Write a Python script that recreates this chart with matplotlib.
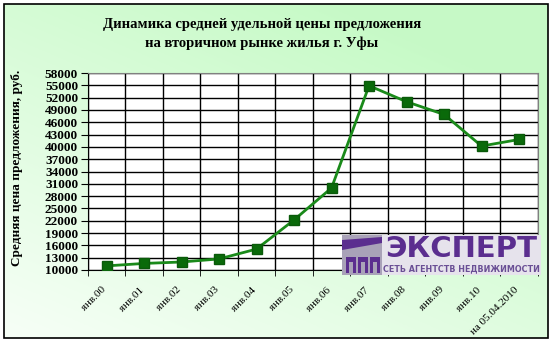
import matplotlib
matplotlib.use("Agg")
import matplotlib.pyplot as plt
import matplotlib.transforms as mtrans
import numpy as np
from matplotlib.patches import Rectangle, Polygon

categories = ["янв.00", "янв.01", "янв.02", "янв.03", "янв.04", "янв.05", "янв.06",
              "янв.07", "янв.08", "янв.09", "янв.10", "на 05.04.2010"]
prices = [11000, 11600, 11950, 12700, 15100, 22200, 30000, 54900, 51000, 47900, 40200, 41800]
yticks = list(range(10000, 58001, 3000))
title = "Динамика средней удельной цены предложения\nна вторичном рынке жилья г. Уфы"
ylabel = "Средняя цена предложения, руб."

W, H = 555, 342
fig = plt.figure(figsize=(W / 100, H / 100), dpi=100)

# background gradient
bg = fig.add_axes([0, 0, 1, 1], zorder=-10)
bg.set_axis_off()
xx, yy = np.meshgrid(np.linspace(0, 1, 200), np.linspace(0, 1, 200))
t = np.clip((xx * 0.7 + yy * 1.0) / 1.4, 0, 1)
c0 = np.array([0.97, 1.0, 0.97])
c1 = np.array([0.78, 0.98, 0.78])
img = c0[None, None, :] * (1 - t[..., None]) + c1[None, None, :] * t[..., None]
bg.imshow(img, origin="lower", extent=[0, 1, 0, 1], aspect="auto")
bg.set_xlim(0, 1); bg.set_ylim(0, 1)
# white margin outside border
for (x0, y0, w, h) in [(0, 0, 4 / W, 1), (548 / W, 0, 7 / W, 1), (0, 0, 1, 4 / H), (0, 338 / H, 1, 4 / H)]:
    bg.add_patch(Rectangle((x0, y0), w, h, facecolor="white", edgecolor="none"))
bg.add_patch(Rectangle((4 / W, 4 / H), 544 / W, 334 / H, facecolor="none", edgecolor="black", lw=1.2))

left, right, top, bottom = 87.8, 537.8, 73, 270
ax = fig.add_axes([left / W, 1 - bottom / H, (right - left) / W, (bottom - top) / H])
ax.set_facecolor("white")
n = len(categories)
x = np.arange(n)
ax.set_xlim(-0.5, n - 0.5)
ax.set_ylim(10000, 58000)
ax.set_yticks(yticks)
ax.set_yticklabels([str(v) for v in yticks], fontfamily="Liberation Serif", fontweight="bold", fontsize=9.5)
ax.set_xticks(np.arange(n + 1) - 0.5, minor=True)
ax.set_xticks(x)
ax.set_xticklabels(categories, rotation=45, ha="right", va="top", rotation_mode="anchor",
                   fontfamily="Liberation Serif", fontsize=8)
ax.tick_params(axis="x", which="major", length=0, pad=11)
ax.tick_params(axis="x", which="minor", length=4, direction="out", color="black")
ax.tick_params(axis="y", length=5, direction="out", color="black", pad=2)
offset = mtrans.ScaledTranslation(-5 / 100, 0, fig.dpi_scale_trans)
for lab in ax.get_xticklabels():
    lab.set_transform(lab.get_transform() + offset)
ax.grid(True, axis="y", color="black", lw=1)
ax.grid(True, axis="x", which="minor", color="black", lw=1)
for s in ["top", "right"]:
    ax.spines[s].set_color("#808080")
for s in ["left", "bottom"]:
    ax.spines[s].set_color("black")
ax.set_axisbelow(True)
ax.plot(x, prices, color="#1a8a1a", lw=2, marker="s", markersize=6.5,
        markerfacecolor="#0a6a0a", markeredgecolor="#0a5a0a", zorder=5)

fig.text(262 / W, 1 - 34 / H, title, ha="center", va="center", fontfamily="Liberation Serif",
         fontweight="bold", fontsize=10.5, linespacing=1.45)
fig.text(17 / W, 1 - 168 / H, ylabel, rotation=90, ha="center", va="center",
         fontfamily="Liberation Serif", fontweight="bold", fontsize=9.5)

# logo
purple = "#5b2e8f"
lx0, lx1, ly0, ly1 = 342, 541, 235, 275
fig.patches.append(Rectangle((lx0 / W, 1 - ly1 / H), (lx1 - lx0) / W, (ly1 - ly0) / H,
                             transform=fig.transFigure, facecolor="#e6e3ec", edgecolor="none", zorder=20))
ix1 = 382
fig.patches.append(Rectangle((lx0 / W, 1 - ly1 / H), (ix1 - lx0) / W, (ly1 - ly0) / H,
                             transform=fig.transFigure, facecolor="#a9a2b8", edgecolor="none", zorder=21))
fig.patches.append(Polygon([(lx0 / W, 1 - 240 / H), (ix1 / W, 1 - 237 / H), (ix1 / W, 1 - 243 / H),
                            (lx0 / W, 1 - 250 / H)], closed=True, transform=fig.transFigure,
                           facecolor=purple, edgecolor="none", zorder=22))
for k in range(3):
    ax0 = 346 + k * 12
    fig.patches.append(Rectangle((ax0 / W, 1 - 273 / H), 10 / W, 16 / H, transform=fig.transFigure,
                                 facecolor=purple, edgecolor="none", zorder=22))
    fig.patches.append(Rectangle(((ax0 + 3) / W, 1 - 273 / H), 4 / W, 11 / H, transform=fig.transFigure,
                                 facecolor="#a9a2b8", edgecolor="none", zorder=23))
fig.text(461 / W, 1 - 249 / H, "ЭКСПЕРТ", ha="center", va="center", fontfamily="DejaVu Sans",
         fontweight="heavy", fontsize=21, color=purple, zorder=25)
fig.text(461 / W, 1 - 269 / H, "СЕТЬ АГЕНТСТВ НЕДВИЖИМОСТИ", ha="center", va="center",
         fontfamily="DejaVu Sans", fontweight="bold", fontsize=5.8, color="#6a4f95", zorder=25)

fig.savefig("out.png", dpi=100)
